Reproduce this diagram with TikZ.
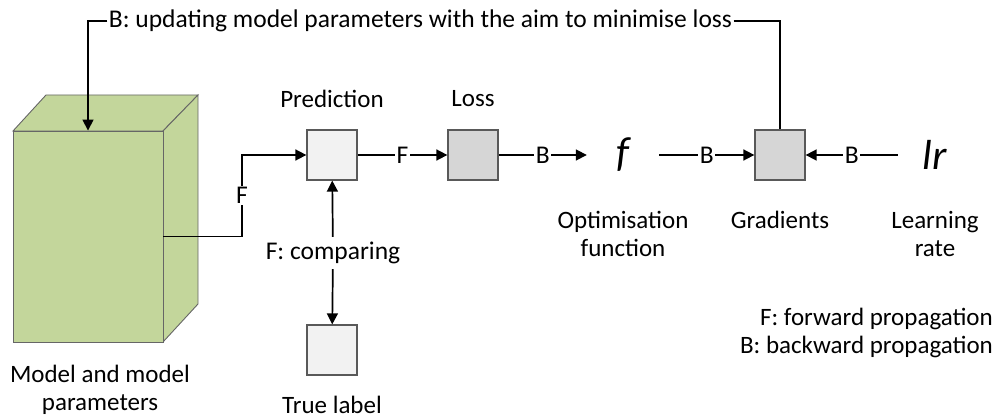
\documentclass[tikz,border=0pt]{standalone}
\usepackage{fontspec}
\setmainfont{Carlito}
\usetikzlibrary{arrows.meta}
\definecolor{cubegreen}{HTML}{C3D69B}
\definecolor{lightbox}{HTML}{F2F2F2}
\definecolor{darkbox}{HTML}{D6D6D6}
\begin{document}
\begin{tikzpicture}[x=1pt,y=-1pt,
  lbl/.style={font=\fontsize{25.5}{28}\selectfont, inner sep=1.5pt, fill=white},
  txt/.style={font=\fontsize{25}{28}\selectfont, align=center, inner sep=0pt},
  sym/.style={font=\fontsize{42}{46}\selectfont\itshape, inner sep=0pt},
  box/.style={draw=black!65, line width=1.3pt, minimum width=50pt, minimum height=50pt, inner sep=0pt},
  cube/.style={draw=black!60, line width=0.9pt, fill=cubegreen},
  arr/.style={line width=1.7pt, -{Triangle[length=11pt,width=11pt]}},
  ln/.style={line width=1.7pt}]
\useasboundingbox (0,0) rectangle (1001,419);

% cube
\draw[cube] (13,131) -- (46,95) -- (198,95) -- (163,131) -- cycle;
\draw[cube] (163,131) -- (198,95) -- (198,304) -- (163,342) -- cycle;
\node[cube, minimum width=150pt, minimum height=211pt, inner sep=0pt] (model) at (88,236.5) {};
\node[txt] (modellbl) at (100,390) {Model and model\\parameters};

% boxes
\node[box, fill=lightbox] (pred) at (332,155) {};
\node[box, fill=darkbox] (loss) at (473,155) {};
\node[box, fill=darkbox] (grad) at (780,155) {};
\node[box, fill=lightbox] (truel) at (332,350) {};
\node[sym, minimum width=72pt, minimum height=40pt] (f) at (623,155) {f};
\node[sym, minimum width=74pt, minimum height=40pt] (lr) at (935,155) {lr};

% labels
\node[txt] (predlbl) at (332,99) {Prediction};
\node[txt] (losslbl) at (473,99) {Loss};
\node[txt] (flbl) at (623,234) {Optimisation\\function};
\node[txt] (gradlbl) at (780,220) {Gradients};
\node[txt] (lrlbl) at (935,234) {Learning\\rate};
\node[txt] (truelbl) at (332,405) {True label};
\node[txt, align=right, anchor=east] (legend) at (993,333) {F: forward propagation\\B: backward propagation};

% top feedback
\node[lbl] (top) at (420.5,21) {B: updating model parameters with the aim to minimise loss};
\draw[arr] (top.west) -| (model.north);
\draw[ln] (top.east) -| (grad.north);

% forward
\coordinate (mbend) at (242,236.5);
\draw[arr] (model.east) -- (mbend) |- node[lbl, pos=0.25] {F} (pred.west);
\draw[arr] (pred) -- node[lbl] {F} (loss);
\draw[arr] (loss) -- node[lbl] {B} (f);
\draw[arr] (f) -- node[lbl] {B} (grad);
\draw[arr] (lr) -- node[lbl] {B} (grad);

% comparing
\node[lbl, inner sep=5pt] (cmp) at (333,253) {F: comparing};
\draw[arr] (cmp) -- (pred);
\draw[arr] (cmp) -- (truel);
\end{tikzpicture}
\end{document}
